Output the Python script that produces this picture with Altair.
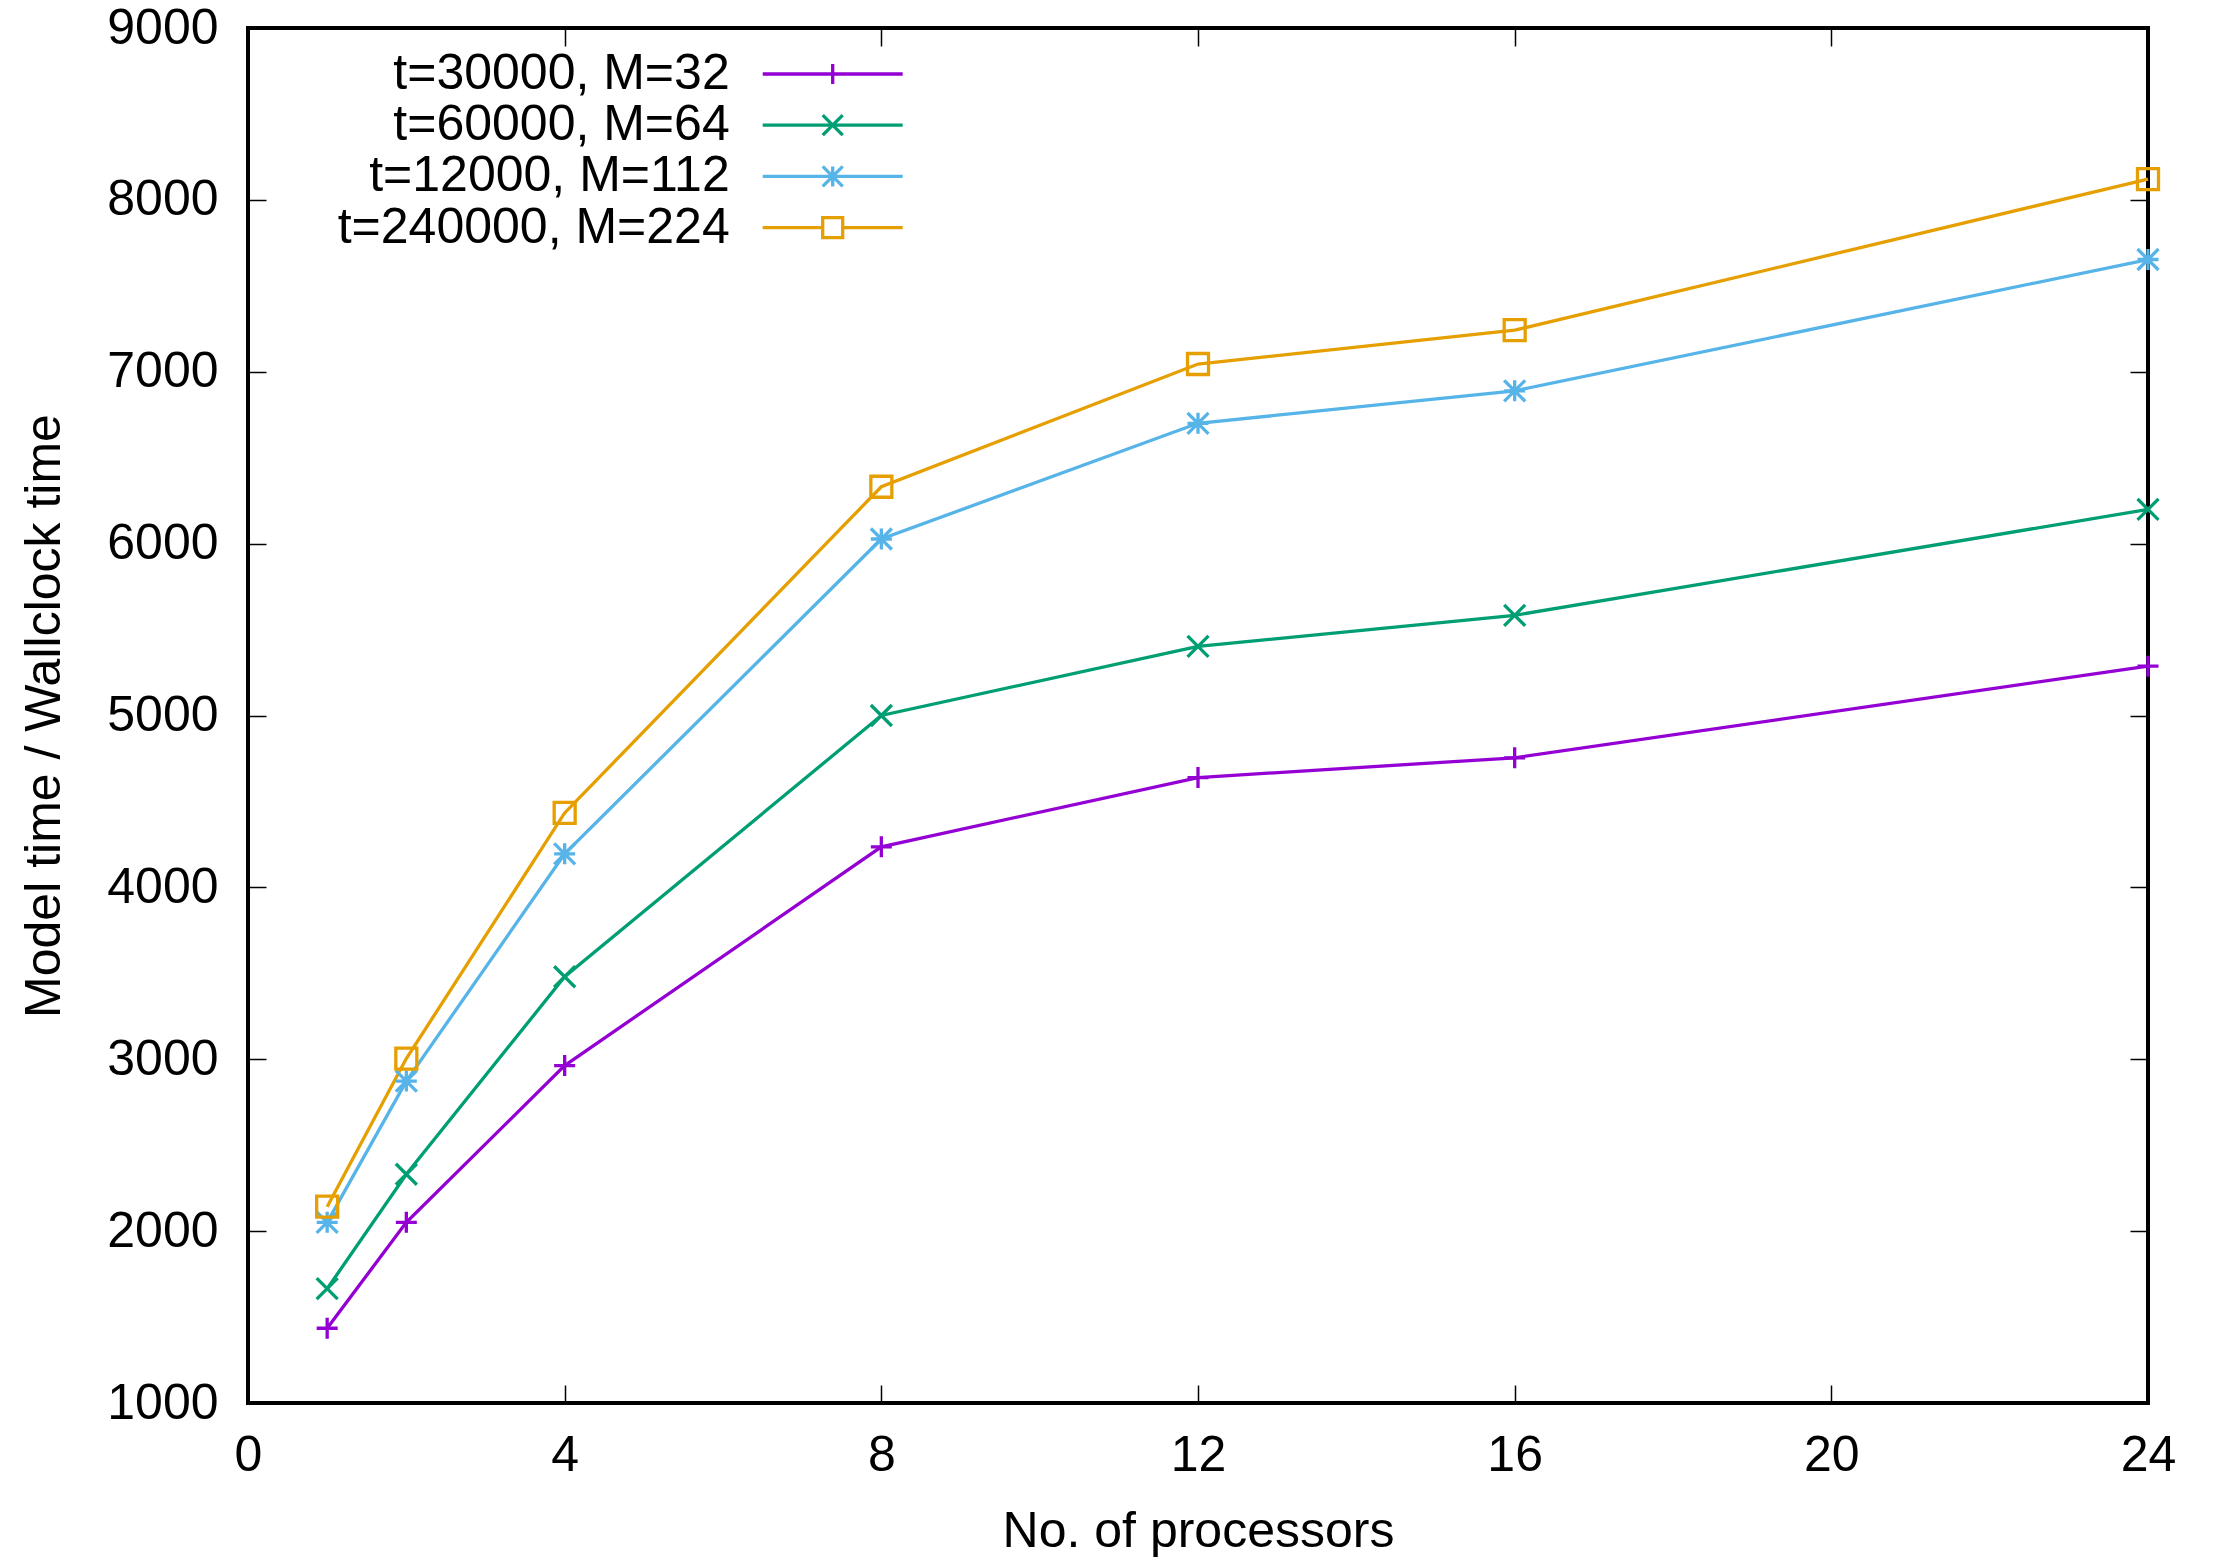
import altair as alt
import pandas as pd

# ---- data ----
procs = [1, 2, 4, 8, 12, 16, 24]
series_labels = ["t=30000, M=32", "t=60000, M=64", "t=12000, M=112", "t=240000, M=224"]
vals_m32 = [1435, 2051, 2963, 4236, 4639, 4754, 5287]
vals_m64 = [1665, 2331, 3480, 5000, 5402, 5583, 6199]
vals_m112 = [2051, 2873, 4195, 6027, 6700, 6889, 7653]
vals_m224 = [2142, 3004, 4433, 6331, 7045, 7242, 8121]
colors = ["#9400d3", "#009e73", "#56b4e9", "#e69f00"]
x_ticks = [0, 4, 8, 12, 16, 20, 24]
y_ticks = [1000, 2000, 3000, 4000, 5000, 6000, 7000, 8000, 9000]
x_title = "No. of processors"
y_title = "Model time / Wallclock time"

rows = []
for name, vals in zip(series_labels, [vals_m32, vals_m64, vals_m112, vals_m224]):
    for p, v in zip(procs, vals):
        rows.append({"procs": p, "value": v, "series": name})
df = pd.DataFrame(rows)

# ---- styling ----
W, H = 1900, 1375
FONT = "Liberation Sans"
FS = 50
LW = 3.3

# marker glyphs (gnuplot pt 1..4)
PLUS = "M-1,0H1M0,-1V1"
CROSS = "M-1,-1L1,1M-1,1L1,-1"
STAR = "M-1,0H1M0,-1V1M-1,-1L1,1M-1,1L1,-1"
SQUARE = "M-1,-1H1V1H-1Z"
marker_paths = [PLUS, CROSS, STAR, SQUARE]

# legend samples: line segment with the marker in its middle
# (symbol size 2116 -> 23 px per path unit)
a = 3.043   # half length of the sample line
k = 0.435   # half size of the marker
L_PLUS = f"M-{a},0H{a}M0,-{k}V{k}"
L_CROSS = f"M-{a},0H{a}M-{k},-{k}L{k},{k}M-{k},{k}L{k},-{k}"
L_STAR = f"M-{a},0H{a}M0,-{k}V{k}M-{k},-{k}L{k},{k}M-{k},{k}L{k},-{k}"
L_SQUARE = f"M-{a},0H-{k}M{k},0H{a}M-{k},-{k}H{k}V{k}H-{k}Z"
legend_paths = [L_PLUS, L_CROSS, L_STAR, L_SQUARE]

xs = alt.Scale(domain=[0, 24], nice=False, zero=False)
ys = alt.Scale(domain=[1000, 9000], nice=False, zero=False)
cs = alt.Scale(domain=series_labels, range=colors)


def tick_axis(values, orient, offset):
    return alt.Axis(values=values, orient=orient, offset=offset, labels=False,
                    domain=False, grid=False, ticks=True, tickSize=18,
                    tickWidth=1.5, tickColor="black", title=None)


x_label_axis = alt.Axis(values=x_ticks, orient="bottom", ticks=False, tickSize=0,
                        domain=False, grid=False, labelFont=FONT, labelFontSize=FS,
                        labelColor="black", labelPadding=27, labelFlush=False,
                        format="d",
                        title=x_title, titleFont=FONT, titleFontSize=FS,
                        titleFontWeight="normal", titleColor="black", titlePadding=26)
y_label_axis = alt.Axis(values=y_ticks, orient="left", ticks=False, tickSize=0,
                        domain=False, grid=False, labelFont=FONT, labelFontSize=FS,
                        labelColor="black", labelPadding=30, labelFlush=False,
                        format="d",
                        title=y_title, titleFont=FONT, titleFontSize=FS,
                        titleFontWeight="normal", titleColor="black", titlePadding=37)

lines = alt.Chart().mark_line(strokeWidth=LW).encode(
    x=alt.X("procs:Q", scale=xs, axis=x_label_axis),
    y=alt.Y("value:Q", scale=ys, axis=y_label_axis),
    color=alt.Color("series:N", scale=cs, legend=None),
    detail="series:N",
)

points = alt.Chart().mark_point(filled=False, opacity=1, strokeWidth=LW, size=441).encode(
    x=alt.X("procs:Q", scale=xs, axis=tick_axis(x_ticks, "top", -H)),
    y=alt.Y("value:Q", scale=ys, axis=tick_axis(y_ticks, "right", -W)),
    color=alt.Color("series:N", scale=cs, legend=None),
    shape=alt.Shape("series:N", scale=alt.Scale(domain=series_labels, range=marker_paths), legend=None),
)

leg = alt.Legend(title=None, orient="none", legendX=559.7, legendY=21, padding=0,
                 labelFont=FONT, labelFontSize=FS, labelColor="black",
                 labelAlign="right", labelOffset={"expr": "-128"}, labelLimit=0,
                 symbolSize=2116, symbolStrokeWidth=LW, rowPadding=1.2,
                 symbolOffset=0)

legend_layer = alt.Chart().transform_filter("false").mark_point(
    filled=False, opacity=1, strokeWidth=LW, size=2116
).encode(
    x=alt.X("procs:Q", scale=xs, axis=tick_axis(x_ticks, "bottom", -H)),
    y=alt.Y("value:Q", scale=ys, axis=tick_axis(y_ticks, "left", -W)),
    color=alt.Color("series:N", scale=cs, legend=leg),
    shape=alt.Shape("series:N", scale=alt.Scale(domain=series_labels, range=legend_paths), legend=leg),
)

chart = alt.layer(lines, points, legend_layer, data=df).resolve_scale(
    color="independent", shape="independent"
).resolve_axis(
    x="independent", y="independent"
).properties(
    width=W, height=H,
    autosize=alt.AutoSizeParams(type="none"),
    padding={"left": 248, "top": 28, "right": 65, "bottom": 157},
    background="white",
).configure_view(stroke="black", strokeWidth=4)

chart.save("out.html", embed_options={"renderer": "svg", "actions": False})
